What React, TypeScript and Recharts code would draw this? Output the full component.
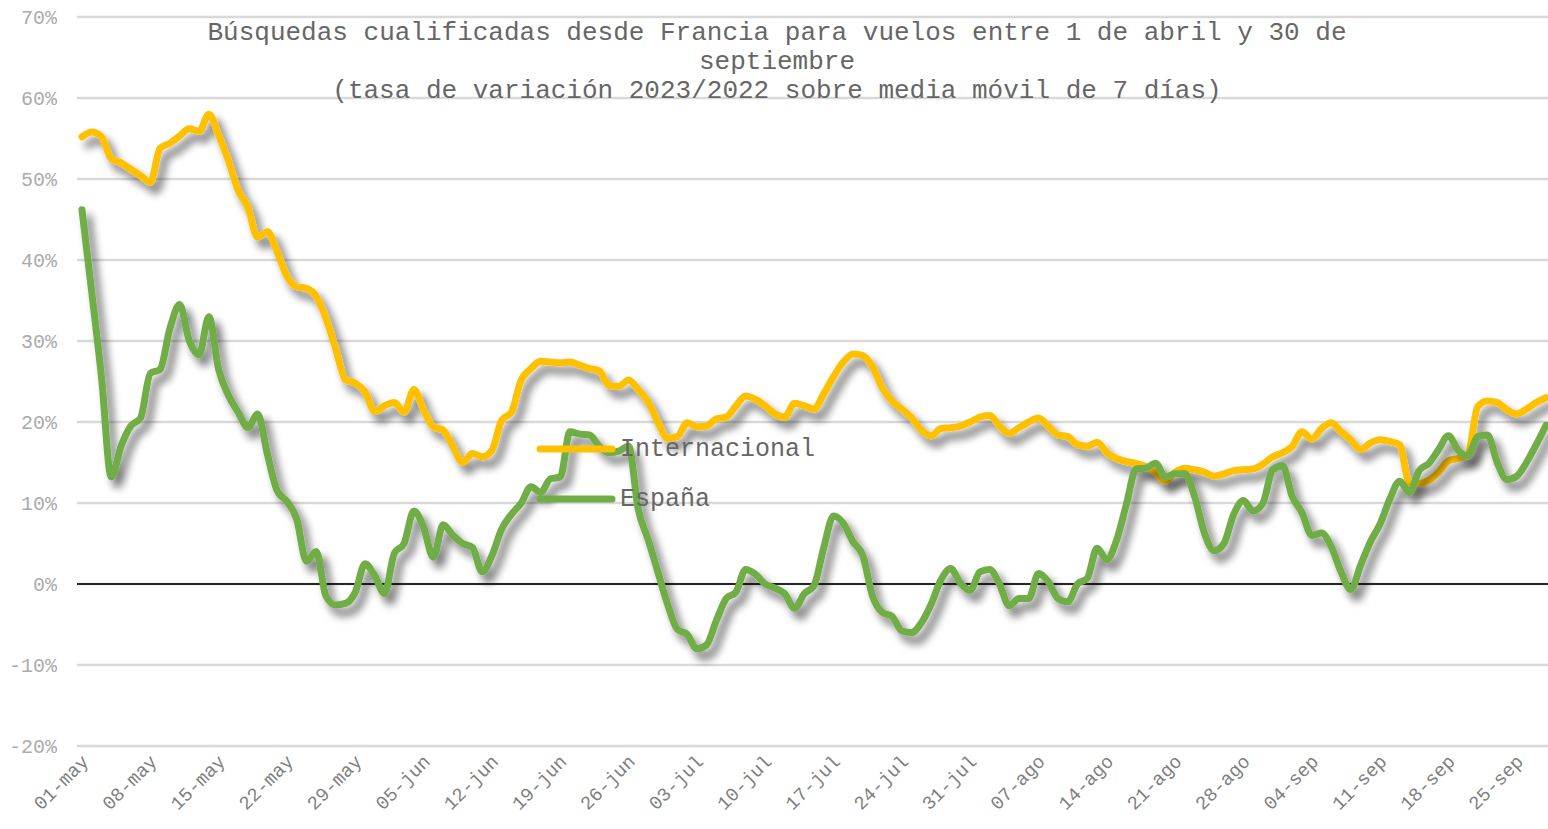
import { LineChart, Line, XAxis, YAxis, CartesianGrid, ReferenceLine } from 'recharts';

// months covered by the chart (name, number of days shown)
const months: [string, number][] = [
  ['may', 31],
  ['jun', 30],
  ['jul', 31],
  ['ago', 31],
  ['sep', 28],
];

const fechas: string[] = [];
months.forEach(([m, n]) => {
  for (let d = 1; d <= n; d++) fechas.push(`${String(d).padStart(2, '0')}-${m}`);
});

const tickLabels = [
  '01-may', '08-may', '15-may', '22-may', '29-may', '05-jun', '12-jun', '19-jun', '26-jun',
  '03-jul', '10-jul', '17-jul', '24-jul', '31-jul', '07-ago', '14-ago', '21-ago', '28-ago',
  '04-sep', '11-sep', '18-sep', '25-sep',
];

const yTicks = [-20, -10, 0, 10, 20, 30, 40, 50, 60, 70];

// % variation 2023/2022, 7-day moving average
const internacional = [
  55.2, 55.8, 55.2, 52.5, 52.0, 51.2, 50.4, 49.6, 53.8, 54.4,
  55.3, 56.2, 55.9, 58.0, 55.4, 52.3, 48.6, 46.5, 42.8, 43.5,
  41.0, 38.0, 36.7, 36.5, 35.5, 32.8, 29.0, 25.2, 24.8, 23.7,
  21.3, 22.0, 22.4, 21.2, 24.0, 21.5, 19.4, 19.0, 17.0, 15.0,
  16.1, 15.7, 16.5, 20.2, 21.2, 25.2, 26.6, 27.5, 27.4, 27.3,
  27.4, 27.0, 26.6, 26.3, 24.5, 24.4, 25.2, 24.0, 22.5, 20.0,
  18.0, 18.2, 19.9, 19.4, 19.5, 20.4, 20.6, 22.0, 23.2, 22.8,
  22.0, 21.0, 20.6, 22.3, 22.0, 21.6, 23.5, 25.6, 27.4, 28.4,
  28.2, 26.8, 24.2, 22.6, 21.6, 20.5, 19.0, 18.3, 19.2, 19.3,
  19.5, 20.0, 20.6, 20.8, 19.5, 18.6, 19.3, 20.0, 20.5, 19.5,
  18.4, 18.2, 17.2, 17.0, 17.5, 16.2, 15.5, 15.1, 14.9, 14.5,
  13.8, 12.7, 13.8, 14.3, 14.1, 13.8, 13.3, 13.6, 14.0, 14.1,
  14.2, 14.8, 15.7, 16.2, 17.0, 18.8, 17.9, 19.2, 19.9, 18.8,
  17.8, 16.6, 17.4, 17.8, 17.6, 17.2, 12.5, 12.4, 12.8, 13.8,
  15.2, 15.5, 16.0, 21.9, 22.6, 22.4, 21.5, 21.0, 21.6, 22.4,
  23.0,
];

const espana = [
  46.2, 36.0, 25.5, 13.2, 17.0, 19.5, 20.5, 26.0, 26.5, 31.5,
  34.5, 30.0, 28.3, 33.0, 26.5, 23.3, 21.2, 19.3, 21.0, 16.0,
  11.5, 10.2, 8.0, 2.8, 4.0, -1.5, -2.6, -2.4, -1.0, 2.5,
  1.0, -1.2, 3.8, 5.0, 9.0, 7.0, 3.3, 7.3, 6.0, 5.0,
  4.5, 1.5, 3.5, 6.8, 8.6, 10.0, 12.0, 11.3, 13.0, 13.2,
  18.8, 18.5, 18.4, 17.0, 16.2, 16.4, 17.0, 9.2, 5.5, 1.5,
  -2.5, -5.6, -6.2, -8.0, -7.5, -4.5, -1.8, -1.0, 1.8, 1.2,
  0.0, -0.5, -1.2, -3.0, -1.2, -0.2, 4.5, 8.4, 7.5, 5.2,
  3.5, -1.5, -3.5, -4.0, -5.8, -6.0, -4.8, -2.5, 0.5, 1.9,
  0.1, -0.8, 1.5, 1.8, 0.0, -2.7, -1.8, -1.8, 1.3, 0.3,
  -1.8, -2.2, 0.0, 0.7, 4.4, 3.0, 5.4, 9.8, 14.2, 14.3,
  14.9, 13.2, 13.6, 13.6, 10.8, 6.3, 4.1, 5.0, 8.6, 10.3,
  9.0, 10.0, 14.1, 14.6, 10.8, 8.8, 6.0, 6.3, 4.6, 1.5,
  -0.7, 2.3, 5.2, 7.4, 10.5, 12.7, 11.3, 14.0, 14.9, 16.6,
  18.3, 16.5, 15.8, 18.2, 18.4, 15.0, 12.9, 13.3, 15.0, 17.2,
  19.6,
];

const data = fechas.map((fecha, i) => ({
  fecha,
  internacional: internacional[i],
  espana: espana[i],
}));

const FONT = '"Liberation Mono", "DejaVu Sans Mono", monospace';
const ORANGE = '#FFC000';
const GREEN = '#70AD47';

const XTick = ({ x, y, payload }: any) => (
  <text
    x={x + 3}
    y={y}
    dy="0.35em"
    textAnchor="end"
    transform={`rotate(-45 ${x + 3} ${y})`}
    fontFamily={FONT}
    fontSize={19}
    fill="#808080"
  >
    {payload.value}
  </text>
);

const legendItems = [
  { name: 'Internacional', color: ORANGE, top: 449 },
  { name: 'España', color: GREEN, top: 499 },
];

export default function App() {
  return (
    <div style={{ position: 'absolute', left: 0, top: 0, width: 1548, height: 829, background: '#fff', overflow: 'hidden' }}>
      <style>{`.recharts-line .recharts-curve { filter: url(#sombra); }`}</style>
      <LineChart width={1548} height={829} data={data} margin={{ top: 17, right: 0, bottom: 0, left: 0 }}>
        <defs>
          <filter id="sombra" x="-5%" y="-10%" width="115%" height="130%">
            <feGaussianBlur in="SourceAlpha" stdDeviation="4" />
            <feOffset dx="6" dy="8" result="off" />
            <feComponentTransfer>
              <feFuncA type="linear" slope="0.55" />
            </feComponentTransfer>
            <feMerge>
              <feMergeNode />
              <feMergeNode in="SourceGraphic" />
            </feMerge>
          </filter>
        </defs>
        <CartesianGrid horizontal vertical={false} stroke="#d9d9d9" strokeWidth={2.5} />
        <XAxis
          dataKey="fecha"
          ticks={tickLabels}
          interval={0}
          axisLine={false}
          tickLine={false}
          tickSize={0}
          tickMargin={12}
          height={83}
          padding={{ left: 5, right: 2 }}
          tick={<XTick />}
        />
        <YAxis
          domain={[-20, 70]}
          ticks={yTicks}
          interval={0}
          width={77}
          axisLine={false}
          tickLine={false}
          tickSize={0}
          tickMargin={20}
          tickFormatter={(v) => `${v}%`}
          tick={{ fontFamily: FONT, fontSize: 20, fill: '#ababab' }}
        />
        <ReferenceLine y={0} stroke="#262626" strokeWidth={2} />
        <Line
          dataKey="internacional"
          name="Internacional"
          type="monotone"
          stroke={ORANGE}
          strokeWidth={7}
          strokeLinecap="round"
          strokeLinejoin="round"
          dot={false}
          isAnimationActive={false}
        />
        <Line
          dataKey="espana"
          name="España"
          type="monotone"
          stroke={GREEN}
          strokeWidth={7}
          strokeLinecap="round"
          strokeLinejoin="round"
          dot={false}
          isAnimationActive={false}
        />
      </LineChart>

      <div
        style={{
          position: 'absolute',
          left: 77,
          top: 19,
          width: 1400,
          textAlign: 'center',
          fontFamily: FONT,
          fontSize: 26,
          lineHeight: '29px',
          color: '#666666',
          whiteSpace: 'pre',
        }}
      >
        <div>Búsquedas cualificadas desde Francia para vuelos entre 1 de abril y 30 de</div>
        <div>septiembre</div>
        <div>(tasa de variación 2023/2022 sobre media móvil de 7 días)</div>
      </div>

      {legendItems.map((it) => (
        <div
          key={it.name}
          style={{ position: 'absolute', left: 534, top: it.top - 15, height: 30, display: 'flex', alignItems: 'center' }}
        >
          <svg width={84} height={30}>
            <line x1={6} y1={15} x2={78} y2={15} stroke={it.color} strokeWidth={7} strokeLinecap="round" />
          </svg>
          <span style={{ fontFamily: FONT, fontSize: 25, color: '#666666', marginLeft: 2 }}>{it.name}</span>
        </div>
      ))}
    </div>
  );
}
